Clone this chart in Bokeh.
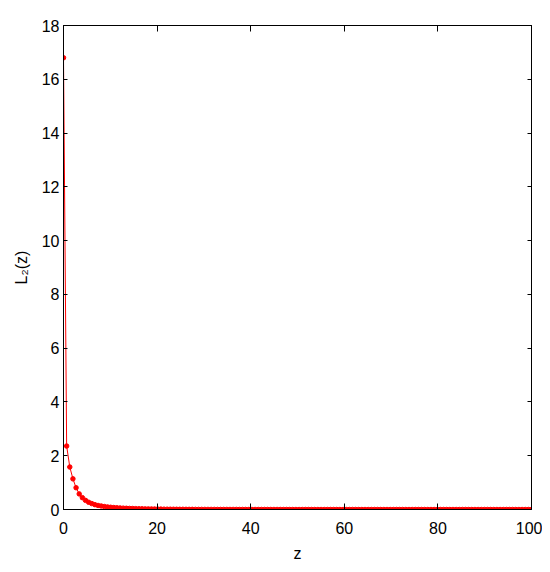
import numpy as np
from bokeh.plotting import figure
from bokeh.models import LinearAxis, FixedTicker
from bokeh.embed import file_html
from bokeh.resources import INLINE

# Data
z_start, z_stop, n_points = 0.0, 100.0, 150
L2_values = [
    16.8, 2.36, 1.58, 1.14, 0.81, 0.58, 0.44, 0.34, 0.27, 0.22,
    0.18, 0.15, 0.13, 0.11, 0.095, 0.083, 0.073, 0.064, 0.057, 0.050,
    0.045, 0.040, 0.036, 0.032, 0.029, 0.026, 0.023, 0.021, 0.019, 0.017,
    0.015, 0.014, 0.012, 0.011, 0.010, 0.009, 0.008, 0.007, 0.007, 0.006,
    0.005, 0.005, 0.004, 0.004, 0.004, 0.003, 0.003, 0.003, 0.003, 0.002,
    0.002, 0.002, 0.002, 0.002, 0.002, 0.002, 0.001, 0.001, 0.001, 0.001,
    0.001, 0.001, 0.001, 0.001, 0.001, 0.001, 0.001, 0.001, 0.001, 0.001,
    0.0, 0.0, 0.0, 0.0, 0.0, 0.0, 0.0, 0.0, 0.0, 0.0,
    0.0, 0.0, 0.0, 0.0, 0.0, 0.0, 0.0, 0.0, 0.0, 0.0,
    0.0, 0.0, 0.0, 0.0, 0.0, 0.0, 0.0, 0.0, 0.0, 0.0,
    0.0, 0.0, 0.0, 0.0, 0.0, 0.0, 0.0, 0.0, 0.0, 0.0,
    0.0, 0.0, 0.0, 0.0, 0.0, 0.0, 0.0, 0.0, 0.0, 0.0,
    0.0, 0.0, 0.0, 0.0, 0.0, 0.0, 0.0, 0.0, 0.0, 0.0,
    0.0, 0.0, 0.0, 0.0, 0.0, 0.0, 0.0, 0.0, 0.0, 0.0,
    0.0, 0.0, 0.0, 0.0, 0.0, 0.0, 0.0, 0.0, 0.0, 0.0,
]
z_values = np.linspace(z_start, z_stop, n_points)
x_ticks = [0, 20, 40, 60, 80, 100]
y_ticks = [0, 2, 4, 6, 8, 10, 12, 14, 16, 18]
x_label = "z"
y_label = "L₂(z)"

FONT = "Liberation Sans"
FS = "16px"

p = figure(width=542, height=564, x_range=(x_ticks[0], x_ticks[-1]),
           y_range=(y_ticks[0], y_ticks[-1]),
           output_backend="svg", toolbar_location=None,
           min_border_left=63, min_border_right=11,
           min_border_top=25, min_border_bottom=50)
p.background_fill_color = "white"
p.border_fill_color = "white"
p.outline_line_color = "black"
p.outline_line_width = 1
p.outline_line_alpha = 1
p.xgrid.visible = False
p.ygrid.visible = False

p.line(z_values, L2_values, line_color="#ff0000", line_width=1)
p.scatter(z_values, L2_values, size=4.5, marker="circle",
          fill_color="#ff0000", line_color="#ff0000")

for ax, ticks, tin in ((p.xaxis[0], x_ticks, 6), (p.yaxis[0], y_ticks, 4)):
    ax.ticker = FixedTicker(ticks=ticks)
    ax.major_tick_in = tin
    ax.major_tick_out = 0
    ax.minor_tick_line_color = None
    ax.axis_line_color = "black"
    ax.major_tick_line_color = "black"
    ax.major_label_text_font = FONT
    ax.major_label_text_font_size = FS
    ax.major_label_text_color = "black"
    ax.axis_label_text_font = FONT
    ax.axis_label_text_font_size = FS
    ax.axis_label_text_font_style = "normal"
    ax.axis_label_text_color = "black"

p.xaxis[0].axis_label = x_label
p.xaxis[0].major_label_standoff = 12
p.xaxis[0].axis_label_standoff = 8
p.yaxis[0].axis_label = y_label
p.yaxis[0].major_label_standoff = 4
p.yaxis[0].axis_label_standoff = 9

# mirrored tick marks on the top and right edges of the box
top = LinearAxis(ticker=FixedTicker(ticks=x_ticks), major_tick_in=6, major_tick_out=0,
                 minor_tick_line_color=None, major_label_text_font_size="0px",
                 major_label_standoff=0, axis_line_color="black")
right = LinearAxis(ticker=FixedTicker(ticks=y_ticks), major_tick_in=4, major_tick_out=0,
                   minor_tick_line_color=None, major_label_text_font_size="0px",
                   major_label_standoff=0, axis_line_color="black")
p.add_layout(top, "above")
p.add_layout(right, "right")

open("out.html", "w").write(file_html(p, INLINE))
